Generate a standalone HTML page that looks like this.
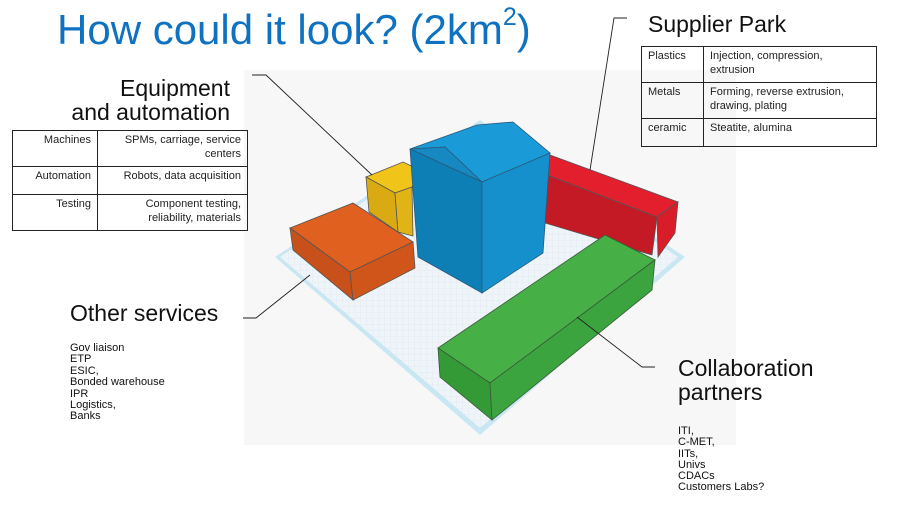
<!DOCTYPE html>
<html><head><meta charset="utf-8"><style>
body{margin:0;width:911px;height:509px;background:#fff;position:relative;overflow:hidden;font-family:"Liberation Sans",sans-serif;}
.a{position:absolute;white-space:nowrap;}
table{position:absolute;border-collapse:collapse;font-size:11px;color:#222;table-layout:fixed;}
td{border:1px solid #222;vertical-align:top;padding:2px 6px;line-height:14px;}
</style></head><body>
<div class="a" style="left:244px;top:70px;width:492px;height:375px;background:#f7f7f7"></div>
<svg class="a" style="left:0;top:0" width="911" height="509">
<defs><pattern id="g" width="6" height="6" patternUnits="userSpaceOnUse"><path d="M6 0H0V6" fill="none" stroke="#d5e6ef" stroke-width="0.5"/></pattern></defs>
<polygon points="275,257 480,120 685,257 480,435" fill="#c9e6f3"/>
<polygon points="280,257 480,125 678,257 480,428" fill="#eef4f8"/>
<polygon points="280,257 480,125 678,257 480,428" fill="url(#g)"/>
<polygon points="366,177 403,162 420,170 412,187 395,193" fill="#f0c419" stroke="#555" stroke-width="0.8"/>
<polygon points="366,177 395,193 398,232 369,212" fill="#d9aa12" stroke="#555" stroke-width="0.8"/>
<polygon points="395,193 412,187 413,236 398,232" fill="#e0b416" stroke="#555" stroke-width="0.8"/>
<polygon points="290,228 353,203 413,242 350,272" fill="#e0601f" stroke="#555" stroke-width="0.8"/>
<polygon points="290,228 350,272 353,300 293,250" fill="#c8501a" stroke="#555" stroke-width="0.8"/>
<polygon points="350,272 413,242 415,268 353,300" fill="#d0551b" stroke="#555" stroke-width="0.8"/>
<polygon points="550,155 678,202 657,217 547,175" fill="#e31f2e" stroke="#555" stroke-width="0.8"/>
<polygon points="547,175 657,217 652,255 545,223" fill="#c41a26" stroke="#555" stroke-width="0.8"/>
<polygon points="657,217 678,202 675,233 658,257" fill="#d91c2a" stroke="#555" stroke-width="0.8"/>
<polygon points="410,149 477,125 513,122 550,153 482,182 445,147" fill="#1a9ad6" stroke="#2a5a7a" stroke-width="0.8"/>
<polygon points="410,149 445,147 482,182" fill="#1688c2" stroke="#2a5a7a" stroke-width="0.8"/>
<polygon points="410,149 482,182 482,293 418,257" fill="#0e7fb5" stroke="#2a5a7a" stroke-width="0.8"/>
<polygon points="482,182 550,153 543,253 482,293" fill="#1590cc" stroke="#2a5a7a" stroke-width="0.8"/>
<polygon points="438,348 605,235 655,260 490,383" fill="#46b046" stroke="#3a5a3a" stroke-width="0.8"/>
<polygon points="438,348 490,383 492,420 440,377" fill="#339a36" stroke="#3a5a3a" stroke-width="0.8"/>
<polygon points="490,383 655,260 652,290 492,420" fill="#3ca43e" stroke="#3a5a3a" stroke-width="0.8"/>
<g stroke="#222" stroke-width="0.9" fill="none">
<polyline points="252,75 266,75 372,175"/>
<polyline points="627,18 614,18 590,170"/>
<polyline points="243,318 256,318 310,275"/>
<polyline points="655,367 642,367 577,317"/>
</g>
</svg>
<div class="a" style="left:57px;top:3px;font-size:42px;color:#0f72c0">How could it look? (2km<sup style="font-size:25px;vertical-align:19px">2</sup>)</div>
<div class="a" style="left:56px;top:76px;width:174px;text-align:right;font-size:23px;line-height:24px;color:#111">Equipment<br>and automation</div>
<table style="left:12px;top:130px;width:236px">
<col style="width:85px"><col>
<tr style="height:36px"><td style="text-align:right">Machines</td><td style="text-align:right">SPMs, carriage, service centers</td></tr>
<tr style="height:28px"><td style="text-align:right">Automation</td><td style="text-align:right">Robots, data acquisition</td></tr>
<tr style="height:36px"><td style="text-align:right">Testing</td><td style="text-align:right">Component testing, reliability, materials</td></tr>
</table>
<div class="a" style="left:648px;top:11px;font-size:23px;color:#111">Supplier Park</div>
<table style="left:641px;top:46px;width:236px">
<col style="width:62px"><col>
<tr style="height:36px"><td>Plastics</td><td>Injection, compression, extrusion</td></tr>
<tr style="height:36px"><td>Metals</td><td>Forming, reverse extrusion, drawing, plating</td></tr>
<tr style="height:28px"><td>ceramic</td><td>Steatite, alumina</td></tr>
</table>
<div class="a" style="left:70px;top:300px;font-size:23px;color:#111">Other services</div>
<div class="a" style="left:70px;top:343px;font-size:11px;line-height:11.4px;color:#111">Gov liaison<br>ETP<br>ESIC,<br>Bonded warehouse<br>IPR<br>Logistics,<br>Banks</div>
<div class="a" style="left:678px;top:356px;font-size:23px;line-height:24px;color:#111">Collaboration<br>partners</div>
<div class="a" style="left:678px;top:426px;font-size:11px;line-height:11.3px;color:#111">ITI,<br>C-MET,<br>IITs,<br>Univs<br>CDACs<br>Customers Labs?</div>
</body></html>
